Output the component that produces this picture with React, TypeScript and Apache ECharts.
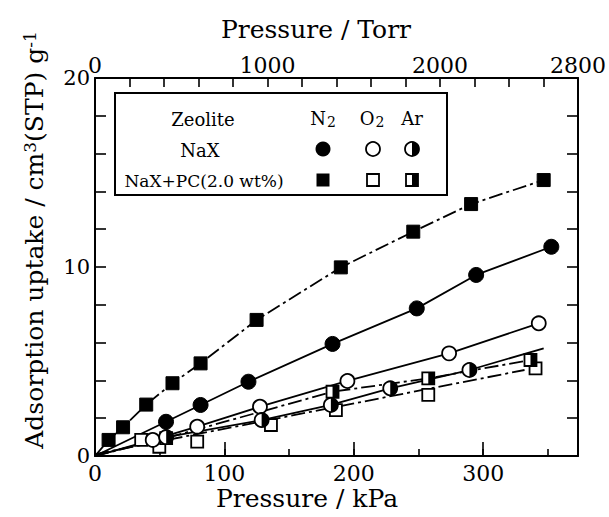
import React, { useEffect, useRef } from "react";
import * as echarts from "echarts";

// ---- data (x: pressure / kPa, y: uptake / cm3(STP) g-1) ----
const KPA_MAX = 373.33; // 2800 Torr
const TORR_MAX = 2800;

const n2NaX = [[54.9, 1.81], [81.6, 2.7], [118.6, 3.93], [183.6, 5.93], [248.7, 7.81], [294.6, 9.58], [352.7, 11.07]];
const o2NaX = [[44.6, 0.85], [79, 1.55], [127.5, 2.61], [195.1, 3.97], [273.7, 5.43], [343, 7.02]];
const arNaX = [[55, 1.0], [128.8, 1.9], [182.3, 2.7], [228.2, 3.58], [289.4, 4.55]];
const n2PC = [[10.5, 0.85], [21.7, 1.52], [39.6, 2.72], [59.9, 3.85], [81.6, 4.9], [124.9, 7.2], [190, 9.98], [246, 11.87], [290.7, 13.33], [346.8, 14.6]];
const o2PC = [[35.7, 0.85], [49.7, 0.49], [79, 0.76], [136, 1.64], [186.2, 2.43], [257.6, 3.23], [340.5, 4.64]];
const arPC = [[55, 0.95], [183.6, 3.4], [257.6, 4.11], [336.6, 5.08]];

// fitted curves drawn in the figure
const origin = [[0, 0]];
const n2NaXFit = [...origin, ...n2NaX];
const o2NaXFit = [...origin, ...o2NaX];
const arNaXFit = [...origin, ...arNaX, [346.8, 5.7]];
const n2PCFit = [...origin, ...n2PC];
const arPCFit = [...origin, ...arPC];
const o2PCFit = [[0, 0.1], [332, 4.55]];

const kpaLabels = [0, 100, 200, 300];
const torrLabels = [0, 1000, 2000, 2800];
const yLabels = [0, 10, 20];

const FONT = "DejaVu Serif";

export default function App() {
  const ref = useRef<HTMLDivElement>(null);
  useEffect(() => {
    if (!ref.current) return;
    const chart = echarts.init(ref.current, null, { renderer: "svg" });
    const solid = { color: "#000", width: 1.8, type: "solid" as any };
    const dashDot = { color: "#000", width: 1.8, type: [14, 4, 3, 4] as any };
    const line = (data: number[][], ls: any) => ({
      type: "line",
      data,
      showSymbol: false,
      symbol: "none",
      lineStyle: ls,
      silent: true,
      z: 2,
    });
    const pts = (data: number[][], symbol: string, size: any, filled: boolean, extra: any = {}) => ({
      type: "scatter",
      data,
      symbol,
      symbolSize: size,
      itemStyle: filled
        ? { color: "#000", borderColor: "#000", borderWidth: 1, opacity: 1 }
        : { color: "#fff", borderColor: "#000", borderWidth: 1.8, opacity: 1 },
      silent: true,
      z: 3,
      ...extra,
    });
    const axisLine = { show: true, onZero: false, lineStyle: { color: "#000", width: 2 } };
    const tickStyle = { color: "#000", width: 1.6 };
    const labelStyle = { fontFamily: FONT, fontSize: 22, color: "#000" };

    const halfDisk = "path://M0,0 A10,10 0 0,1 0,20 Z";

    const option: any = {
      animation: false,
      backgroundColor: "#fff",
      grid: { left: 95, right: 26, top: 78, bottom: 61, containLabel: false },
      xAxis: [
        {
          type: "value", position: "bottom", min: 0, max: KPA_MAX, interval: 100,
          axisLine, splitLine: { show: false },
          axisTick: { inside: true, length: 14, lineStyle: tickStyle },
          axisLabel: { ...labelStyle, margin: 6, showMaxLabel: false, formatter: (v: number) => (kpaLabels.includes(Math.round(v * 100) / 100) ? String(v) : "") },
        },
        {
          type: "value", position: "top", min: 0, max: TORR_MAX, interval: 200,
          axisLine, splitLine: { show: false },
          axisTick: { inside: true, length: 9, lineStyle: tickStyle },
          axisLabel: { ...labelStyle, margin: 2, formatter: (v: number) => (torrLabels.includes(v) ? String(v) : "") },
        },
        {
          type: "value", position: "bottom", min: 0, max: KPA_MAX, interval: 50,
          axisLine: { show: false, onZero: false }, splitLine: { show: false },
          axisTick: { inside: true, length: 7, lineStyle: tickStyle },
          axisLabel: { show: false },
        },
      ],
      yAxis: [
        {
          type: "value", position: "left", min: 0, max: 20, interval: 2,
          axisLine, splitLine: { show: false },
          axisTick: { inside: true, length: 11, lineStyle: tickStyle },
          axisLabel: { ...labelStyle, fontSize: 21, margin: 5, formatter: (v: number) => (yLabels.includes(v) ? String(v) : "") },
        },
        {
          type: "value", position: "right", min: 0, max: 20, interval: 2,
          axisLine, splitLine: { show: false },
          axisTick: { inside: true, length: 11, lineStyle: tickStyle },
          axisLabel: { show: false },
        },
      ],
      series: [
        line(n2NaXFit, solid),
        line(o2NaXFit, solid),
        line(arNaXFit, solid),
        line(n2PCFit, dashDot),
        line(o2PCFit, dashDot),
        line(arPCFit, dashDot),
        pts(o2PC, "rect", 12, false),
        pts(arPC, "rect", 12, false),
        pts(arPC, "rect", [6, 12], true, { symbolOffset: [3, 0], itemStyle: { color: "#000", borderWidth: 0, opacity: 1 } }),
        pts(n2PC, "rect", 13, true),
        pts(o2NaX, "circle", 14, false),
        pts(arNaX, "circle", 14, false),
        pts(arNaX, halfDisk, [7, 14], true, { symbolOffset: [3.5, 0], itemStyle: { color: "#000", borderWidth: 0, opacity: 1 } }),
        pts(n2NaX, "circle", 15, true),
      ],
      graphic: [
        // axis titles
        {
          type: "text", x: 316, y: 29,
          style: { text: "Pressure / Torr", fontFamily: FONT, fontSize: 25, fill: "#000", align: "center", verticalAlign: "middle" },
        },
        {
          type: "text", x: 307, y: 498,
          style: { text: "Pressure / kPa", fontFamily: FONT, fontSize: 25, fill: "#000", align: "center", verticalAlign: "middle" },
        },
        {
          type: "text", x: 34, y: 240, rotation: Math.PI / 2,
          style: {
            text: "Adsorption uptake / cm{sup|3}(STP) g{sup|-1}",
            fontFamily: FONT, fontSize: 25, fill: "#000", align: "center", verticalAlign: "middle",
            rich: { sup: { fontFamily: FONT, fontSize: 17, verticalAlign: "top", fill: "#000" } },
          },
        },
        // legend table
        {
          type: "rect", shape: { x: 115, y: 93, width: 332, height: 102 },
          style: { fill: "#fff", stroke: "#000", lineWidth: 2 }, z: 10,
        },
        { type: "text", x: 203, y: 119, z: 11, style: { text: "Zeolite", fontFamily: FONT, fontSize: 18, fill: "#000", align: "center", verticalAlign: "middle" } },
        { type: "text", x: 200, y: 150, z: 11, style: { text: "NaX", fontFamily: FONT, fontSize: 18, fill: "#000", align: "center", verticalAlign: "middle" } },
        { type: "text", x: 204, y: 181, z: 11, style: { text: "NaX+PC(2.0 wt%)", fontFamily: FONT, fontSize: 17, fill: "#000", align: "center", verticalAlign: "middle" } },
        {
          type: "text", x: 323, y: 118, z: 11,
          style: { text: "N{sub|2}", fontFamily: FONT, fontSize: 18, fill: "#000", align: "center", verticalAlign: "middle", rich: { sub: { fontFamily: FONT, fontSize: 14, verticalAlign: "bottom", padding: [8, 0, 0, 1], fill: "#000" } } },
        },
        {
          type: "text", x: 372, y: 118, z: 11,
          style: { text: "O{sub|2}", fontFamily: FONT, fontSize: 18, fill: "#000", align: "center", verticalAlign: "middle", rich: { sub: { fontFamily: FONT, fontSize: 14, verticalAlign: "bottom", padding: [8, 0, 0, 1], fill: "#000" } } },
        },
        { type: "text", x: 412, y: 118, z: 11, style: { text: "Ar", fontFamily: FONT, fontSize: 18, fill: "#000", align: "center", verticalAlign: "middle" } },
        { type: "circle", z: 11, shape: { cx: 323, cy: 149, r: 7.5 }, style: { fill: "#000" } },
        { type: "circle", z: 11, shape: { cx: 373, cy: 149, r: 7 }, style: { fill: "#fff", stroke: "#000", lineWidth: 1.8 } },
        { type: "circle", z: 11, shape: { cx: 412, cy: 149, r: 7 }, style: { fill: "#fff", stroke: "#000", lineWidth: 1.8 } },
        { type: "sector", z: 12, shape: { cx: 412, cy: 149, r: 7, r0: 0, startAngle: -Math.PI / 2, endAngle: Math.PI / 2, clockwise: true }, style: { fill: "#000" } },
        { type: "rect", z: 11, shape: { x: 316.5, y: 173.5, width: 13, height: 13 }, style: { fill: "#000" } },
        { type: "rect", z: 11, shape: { x: 367, y: 174, width: 12, height: 12 }, style: { fill: "#fff", stroke: "#000", lineWidth: 1.8 } },
        { type: "rect", z: 11, shape: { x: 406, y: 174, width: 12, height: 12 }, style: { fill: "#fff", stroke: "#000", lineWidth: 1.8 } },
        { type: "rect", z: 12, shape: { x: 412, y: 174, width: 6, height: 12 }, style: { fill: "#000" } },
      ],
    };
    chart.setOption(option);
    return () => chart.dispose();
  }, []);
  return <div ref={ref} style={{ position: "fixed", left: 0, top: 0, width: 609, height: 517 }} />;
}
